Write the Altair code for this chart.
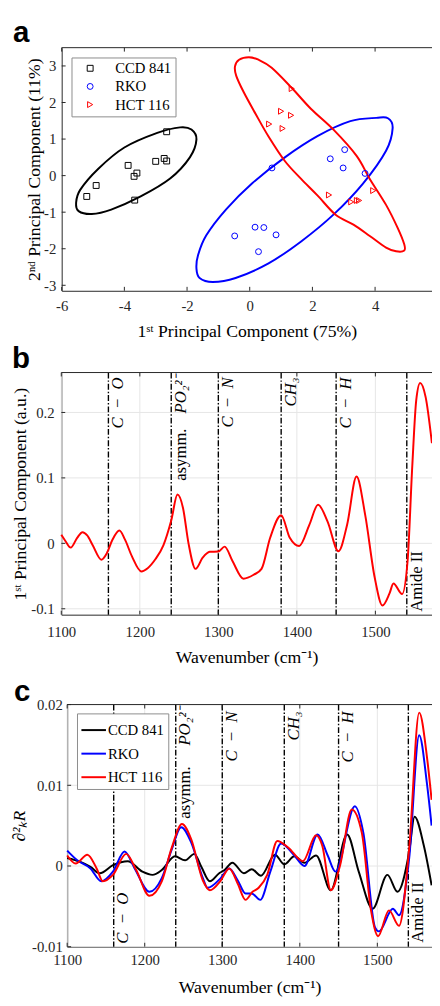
import altair as alt
import pandas as pd

SERIF = "Liberation Serif"
SANS = "Liberation Sans"
AXC = "#262626"
GRID = "#e6e6e6"
LBL = "datum.value < 0 ? '-' + format(-datum.value, '') : format(datum.value, '')"

groups = ["CCD 841", "RKO", "HCT 116"]
group_colors = ["#000000", "#0000ff", "#ff0000"]
group_shapes = ["square", "circle", "triangle-right"]
panel_letters = ["a", "b", "c"]

# ---------------- panel a : PCA scores ----------------
ccd_x = [-5.20, -4.90, -3.88, -3.69, -3.60, -3.67, -3.00, -2.73, -2.65, -2.65]
ccd_y = [-0.57, -0.27, 0.28, -0.02, 0.07, -0.67, 0.39, 0.47, 0.40, 1.20]
rko_x = [-0.48, 0.17, 0.45, 0.84, 0.28, 0.71, 2.57, 3.03, 2.98, 3.68]
rko_y = [-1.65, -1.41, -1.42, -1.62, -2.08, 0.21, 0.46, 0.71, 0.21, 0.06]
hct_x = [1.34, 1.00, 1.32, 0.62, 1.05, 2.53, 3.24, 3.42, 3.49, 3.94]
hct_y = [2.38, 1.76, 1.65, 1.41, 1.29, -0.53, -0.72, -0.68, -0.68, -0.41]

# confidence-ellipse outlines
ccd_ex = [-5.54, -5.46, -5.04, -4.42, -3.48, -2.54, -1.91, -1.70, -1.86, -2.22, -2.95, -4.00, -4.83, -5.41]
ccd_ey = [-0.75, -0.97, -1.05, -0.93, -0.57, -0.08, 0.50, 0.99, 1.26, 1.32, 1.17, 0.77, 0.19, -0.39]
rko_ex = [-1.70, -1.60, -1.18, -0.45, 0.60, 1.64, 2.68, 3.62, 4.35, 4.56, 4.41, 4.04, 3.21, 2.16, 1.12, 0.08, -0.76, -1.39, -1.65]
rko_ey = [-2.54, -2.80, -2.91, -2.80, -2.40, -1.80, -1.06, -0.21, 0.68, 1.30, 1.57, 1.58, 1.49, 1.08, 0.50, -0.21, -0.93, -1.64, -2.18]
hct_ex = [-0.47, -0.34, -0.03, 0.28, 0.70, 1.33, 1.95, 2.68, 3.41, 3.83, 4.35, 4.72, 4.93, 4.93, 4.67, 4.35, 3.83,
          3.31, 2.74, 2.16, 1.64, 1.12, 0.60, 0.18, -0.19, -0.43]
hct_ey = [2.99, 3.17, 3.24, 3.17, 2.95, 2.41, 1.83, 1.25, 0.54, -0.09, -0.80, -1.43, -1.88, -2.05, -2.07, -1.97, -1.65,
          -1.34, -1.07, -0.54, -0.09, 0.40, 1.07, 1.70, 2.28, 2.73]

xticks_a = [-6, -4, -2, 0, 2, 4]
yticks_a = [-3, -2, -1, 0, 1, 2, 3]

# ---------------- panel b : 1st PC loading ----------------
wn_b = [1100, 1105, 1112, 1120, 1127, 1133, 1140, 1151, 1158, 1165, 1174, 1181, 1190, 1202, 1210, 1220, 1230,
        1240, 1248, 1255, 1262, 1271, 1280, 1289, 1300, 1308, 1318, 1332, 1345, 1355, 1366, 1380, 1391, 1403,
        1416, 1427, 1439, 1453, 1464, 1476, 1487, 1499, 1509, 1518, 1523, 1534, 1541, 1547, 1552, 1557, 1564, 1572]
pc1_b = [0.013, 0.004, -0.0065, 0.008, 0.017, 0.012, -0.003, -0.025, -0.015, 0.005, 0.0195, 0.006, -0.02, -0.043,
         -0.038, -0.024, -0.003, 0.035, 0.0745, 0.054, 0.0, -0.039, -0.022, -0.013, -0.0125, -0.005, -0.027, -0.054,
         -0.048, -0.039, 0.0085, 0.043, 0.0085, -0.004, 0.0285, 0.059, 0.0335, -0.012, 0.0285, 0.102, 0.0435,
         -0.0515, -0.095, -0.0765, -0.0615, -0.0775, -0.027, 0.1185, 0.2185, 0.245, 0.2235, 0.153]

# ---------------- panel c : second derivative spectra ----------------
wn_ccd = [1100, 1117, 1130, 1142, 1159, 1178, 1197, 1210, 1222, 1239, 1252, 1264, 1273, 1284, 1296, 1303, 1313,
          1328, 1338, 1350, 1368, 1380, 1393, 1406, 1421, 1440, 1461, 1476, 1494, 1513, 1526, 1541, 1548, 1560, 1570]
d2_ccd = [0.0010, 0.0005, -0.0001, -0.0009, 0.0001, 0.0006, -0.0007, -0.0011, -0.0005, 0.0012, 0.0007, 0.0015,
          -0.0001, -0.0019, -0.0009, -0.0005, 0.0004, -0.0009, -0.0004, -0.0012, 0.0014, 0.0002, 0.0012, 0.0004,
          0.0013, -0.0030, 0.0039, -0.0007, -0.0053, -0.0011, -0.0032, 0.0017, 0.0061, 0.0025, -0.0024]
wn_rko = [1100, 1113, 1130, 1144, 1159, 1174, 1187, 1206, 1222, 1235, 1247, 1260, 1275, 1281, 1298, 1309, 1320,
          1330, 1338, 1349, 1362, 1376, 1393, 1406, 1423, 1436, 1446, 1471, 1482, 1497, 1502, 1520, 1528, 1541,
          1554, 1564, 1570]
d2_rko = [0.0019, 0.0007, -0.0003, -0.0019, -0.0007, 0.0018, -0.0003, -0.0032, -0.0015, 0.0021, 0.0048, 0.0029,
          -0.0015, -0.0027, -0.0015, -0.0003, -0.0018, -0.0034, -0.0034, -0.0042, -0.0007, 0.0028, 0.0013, 0.0000,
          0.0039, 0.0013, -0.0007, 0.0074, 0.0041, -0.0076, -0.0081, -0.0053, -0.0061, 0.0009, 0.0162, 0.0102, 0.0050]
wn_hct = [1100, 1111, 1126, 1138, 1146, 1159, 1176, 1189, 1206, 1222, 1235, 1248, 1260, 1275, 1284, 1298, 1309,
          1320, 1330, 1339, 1347, 1358, 1371, 1385, 1404, 1421, 1429, 1440, 1452, 1467, 1480, 1492, 1501, 1515,
          1528, 1541, 1554, 1564, 1570]
d2_hct = [0.0013, 0.0003, 0.0014, -0.0003, -0.0019, -0.0011, 0.0015, -0.0005, -0.0037, -0.0019, 0.0023, 0.0052,
          0.0033, -0.0018, -0.0030, -0.0018, -0.0003, -0.0022, -0.0042, -0.0032, -0.0027, -0.0011, 0.0031, 0.0023,
          0.0006, 0.0038, 0.0025, -0.0030, 0.0001, 0.0070, 0.0041, -0.0056, -0.0087, -0.0055, -0.0074, 0.0021,
          0.0190, 0.0135, 0.0082]

xticks_bc = [1100, 1200, 1300, 1400, 1500]
yticks_b = [-0.1, 0, 0.1, 0.2]
yticks_c = [-0.01, 0, 0.01, 0.02]

band_wn = [1160, 1240, 1300, 1380, 1450, 1540]
SP = "\u2002"
lab_co = "C" + SP + "\u2212" + SP + "O"
lab_cn = "C" + SP + "\u2212" + SP + "N"
lab_ch = "C" + SP + "\u2212" + SP + "H"
lab_ch3 = "CH\u2083"
lab_po = "PO\u2082\u00b2\u207b"
lab_asym = "asymm."
lab_amide = "Amide II"

# ---------------- layout (pixels inside the single canvas) ----------------
CW, CH = 432, 998
RIGHT = CW
La, Ta, Ba = 54.7, 31, 278.7
Lb, Tb, Bb = 54.3, 362, 608.7
Lc, Tc, Bc = 60.3, 700.3, 947


def xaxis(vals, title, bottom, lpad, tpad):
    return alt.Axis(orient="bottom", offset=bottom - CH, values=vals, title=title, grid=False, ticks=False,
                    tickSize=0, domain=True, domainColor=AXC, domainWidth=1, labelFont=SERIF, labelFontSize=15,
                    labelColor=AXC, labelPadding=lpad, labelFlush=False, labelOverlap=False, labelExpr=LBL,
                    titleFont=SERIF, titleFontSize=18, titleFontWeight="normal", titleColor="black",
                    titlePadding=tpad)


def yaxis(vals, title, left, lpad, tpad, italic=False):
    return alt.Axis(orient="left", offset=-left, values=vals, title=title, grid=False, ticks=False, tickSize=0,
                    domain=True, domainColor=AXC, domainWidth=1, labelFont=SERIF, labelFontSize=15,
                    labelColor=AXC, labelPadding=lpad, labelFlush=False, labelOverlap=False, labelExpr=LBL,
                    titleFont=SERIF, titleFontSize=18, titleFontWeight="normal", titleColor="black",
                    titlePadding=tpad, titleFontStyle="italic" if italic else "normal")


def grid_layers(xv, yv, xs, ys, L, T, B):
    dx = pd.DataFrame({"v": xv})
    dy = pd.DataFrame({"v": yv})
    g = dict(color=GRID, strokeWidth=1)
    return [
        alt.Chart(dx).mark_rule(**g).encode(
            x=alt.X("v:Q", scale=xs, axis=None), y=alt.value(T), y2=alt.value(B)),
        alt.Chart(dy).mark_rule(**g).encode(
            y=alt.Y("v:Q", scale=ys, axis=None), x=alt.value(L), x2=alt.value(RIGHT)),
    ]


def tick_layers(xv, yv, xs, ys, L, T, B):
    dx = pd.DataFrame({"v": xv})
    dy = pd.DataFrame({"v": yv})
    r = dict(color=AXC, strokeWidth=1)
    return [
        alt.Chart(dx).mark_rule(**r).encode(
            x=alt.X("v:Q", scale=xs, axis=None), y=alt.value(B), y2=alt.value(B - 4)),
        alt.Chart(dx).mark_rule(**r).encode(
            x=alt.X("v:Q", scale=xs, axis=None), y=alt.value(T), y2=alt.value(T + 4)),
        alt.Chart(dy).mark_rule(**r).encode(
            y=alt.Y("v:Q", scale=ys, axis=None), x=alt.value(L), x2=alt.value(L + 4)),
        alt.Chart(pd.DataFrame({"k": [0]})).mark_rule(**r).encode(
            x=alt.value(L), x2=alt.value(RIGHT), y=alt.value(T)),
    ]


def letter(ch, px, py):
    return alt.Chart(pd.DataFrame({"t": [ch]})).mark_text(
        font=SANS, fontSize=30, fontWeight="bold", align="left", baseline="alphabetic", color="black"
    ).encode(text="t:N", x=alt.value(px), y=alt.value(py))


def vlabels(texts, wns, xs, py, align, italic, size=17):
    df = pd.DataFrame({"wn": wns, "txt": texts})
    return alt.Chart(df).mark_text(
        angle=270, align=align, baseline="top", dy=2, font=SERIF, fontSize=size,
        fontStyle="italic" if italic else "normal", color="black"
    ).encode(x=alt.X("wn:Q", scale=xs, axis=None), y=alt.value(py), text="txt:N")


def vlines(xs, T, B):
    return alt.Chart(pd.DataFrame({"wn": band_wn})).mark_rule(
        color="black", strokeWidth=1.4, strokeDash=[6, 2, 1.5, 2]
    ).encode(x=alt.X("wn:Q", scale=xs, axis=None), y=alt.value(T), y2=alt.value(B))


# ---------------- panel a ----------------
xs_a = alt.Scale(domain=[-6, 5.816], range=[La, RIGHT], nice=False, zero=False)
ys_a = alt.Scale(domain=[-3.15, 3.5], range=[Ba, Ta], nice=False, zero=False)
col_a = alt.Scale(domain=groups, range=group_colors)
shp_a = alt.Scale(domain=groups, range=group_shapes)

pts_a = pd.DataFrame({
    "x": ccd_x + rko_x + hct_x,
    "y": ccd_y + rko_y + hct_y,
    "group": [groups[0]] * len(ccd_x) + [groups[1]] * len(rko_x) + [groups[2]] * len(hct_x),
})
ell_a = pd.DataFrame({
    "x": ccd_ex + rko_ex + hct_ex,
    "y": ccd_ey + rko_ey + hct_ey,
    "group": [groups[0]] * len(ccd_ex) + [groups[1]] * len(rko_ex) + [groups[2]] * len(hct_ex),
    "i": list(range(len(ccd_ex))) + list(range(len(rko_ex))) + list(range(len(hct_ex))),
})

leg_a = alt.Legend(title=None, orient="none", legendX=La + 10, legendY=Ta + 10, fillColor="white",
                   strokeColor="#8c8c8c", cornerRadius=0, padding=3.5, rowPadding=2.5, symbolSize=36,
                   symbolStrokeWidth=1, symbolOffset=8, labelOffset=18, labelFont=SERIF, labelFontSize=15,
                   labelColor="black")

layers_a = [
    alt.Chart(ell_a).mark_line(interpolate="cardinal-closed", strokeWidth=2).encode(
        x=alt.X("x:Q", scale=xs_a,
                axis=xaxis(xticks_a, "1\u02e2\u1d57 Principal Component (75%)", Ba, 8, 10)),
        y=alt.Y("y:Q", scale=ys_a,
                axis=yaxis(yticks_a, "2\u207f\u1d48 Principal Component (11%)", La, 6, 0.5)),
        stroke=alt.Stroke("group:N", scale=col_a, legend=None),
        detail="group:N",
        order="i:Q",
    ),
    alt.Chart(pts_a).mark_point(filled=False, size=36, strokeWidth=1, opacity=1).encode(
        x=alt.X("x:Q", scale=xs_a, axis=None),
        y=alt.Y("y:Q", scale=ys_a, axis=None),
        color=alt.Color("group:N", scale=col_a, legend=leg_a),
        shape=alt.Shape("group:N", scale=shp_a, legend=leg_a),
    ),
    *tick_layers(xticks_a, yticks_a, xs_a, ys_a, La, Ta, Ba),
    letter(panel_letters[0], 5, 25),
]

# ---------------- panel b ----------------
xs_b = alt.Scale(domain=[1100, 1572.1], range=[Lb, RIGHT], nice=False, zero=False)
ys_b = alt.Scale(domain=[-0.109, 0.261], range=[Bb, Tb], nice=False, zero=False)
df_b = pd.DataFrame({"wn": wn_b, "v": pc1_b})

layers_b = [
    *grid_layers(xticks_bc, yticks_b, xs_b, ys_b, Lb, Tb, Bb),
    vlines(xs_b, Tb, Bb),
    alt.Chart(df_b).mark_line(color="#ff0000", strokeWidth=2, interpolate="monotone").encode(
        x=alt.X("wn:Q", scale=xs_b, axis=xaxis(xticks_bc, "Wavenumber (cm\u207b\u00b9)", Bb, 10, 9.3)),
        y=alt.Y("v:Q", scale=ys_b,
                axis=yaxis(yticks_b, "1\u02e2\u1d57 Principal Component (a.u.)", Lb, 7.3, 1)),
    ),
    vlabels([lab_co, lab_cn, lab_ch3, lab_ch], [1160, 1300, 1380, 1450], xs_b, Tb + 5, "right", True),
    vlabels([lab_po], [1240], xs_b, Tb + 2, "right", True),
    vlabels([lab_asym], [1240], xs_b, Tb + 57, "right", False),
    vlabels([lab_amide], [1540], xs_b, Bb - 3, "left", False),
    *tick_layers(xticks_bc, yticks_b, xs_b, ys_b, Lb, Tb, Bb),
    letter(panel_letters[1], 4, 357),
]

# ---------------- panel c ----------------
xs_c = alt.Scale(domain=[1100, 1570.5], range=[Lc, RIGHT], nice=False, zero=False)
ys_c = alt.Scale(domain=[-0.01, 0.02], range=[Bc, Tc], nice=False, zero=False)
col_c = alt.Scale(domain=groups, range=group_colors)
df_c = pd.DataFrame({
    "wn": wn_ccd + wn_rko + wn_hct,
    "v": d2_ccd + d2_rko + d2_hct,
    "series": [groups[0]] * len(wn_ccd) + [groups[1]] * len(wn_rko) + [groups[2]] * len(wn_hct),
})
leg_c = alt.Legend(title=None, orient="none", legendX=Lc + 10, legendY=Tc + 9, fillColor="white",
                   strokeColor="#8c8c8c", cornerRadius=0, padding=3.5, rowPadding=2, symbolType="stroke",
                   symbolSize=625, symbolStrokeWidth=2, labelOffset=1, labelFont=SERIF, labelFontSize=15,
                   labelColor="black")

layers_c = [
    *grid_layers(xticks_bc, yticks_c, xs_c, ys_c, Lc, Tc, Bc),
    vlines(xs_c, Tc, Bc),
    alt.Chart(df_c).mark_line(strokeWidth=2, interpolate="monotone").encode(
        x=alt.X("wn:Q", scale=xs_c, axis=xaxis(xticks_bc, "Wavenumber (cm\u207b\u00b9)", Bc, 6.6, 11)),
        y=alt.Y("v:Q", scale=ys_c, axis=yaxis(yticks_c, "\u2202\u00b2\u2096R", Lc, 5, 3, italic=True)),
        color=alt.Color("series:N", scale=col_c, legend=leg_c, sort=groups),
    ),
    vlabels([lab_cn, lab_ch3, lab_ch], [1300, 1380, 1450], xs_c, Tc + 7, "right", True),
    vlabels([lab_po], [1240], xs_c, Tc + 2, "right", True),
    vlabels([lab_asym], [1240], xs_c, Tc + 63, "right", False),
    vlabels([lab_co], [1160], xs_c, Bc - 3, "left", True),
    vlabels([lab_amide], [1540], xs_c, Bc - 4, "left", False),
    *tick_layers(xticks_bc, yticks_c, xs_c, ys_c, Lc, Tc, Bc),
    letter(panel_letters[2], 6, 697),
]

chart = alt.layer(*layers_a, *layers_b, *layers_c).resolve_scale(
    x="independent", y="independent", color="independent", shape="independent", stroke="independent"
).resolve_axis(
    x="independent", y="independent"
).resolve_legend(
    color="independent", shape="independent", stroke="independent"
).configure_view(stroke=None).properties(
    width=CW, height=CH, padding=0, autosize=alt.AutoSizeParams(type="none"), background="white"
)

chart.save("out.html", embed_options={"renderer": "svg", "actions": False})
